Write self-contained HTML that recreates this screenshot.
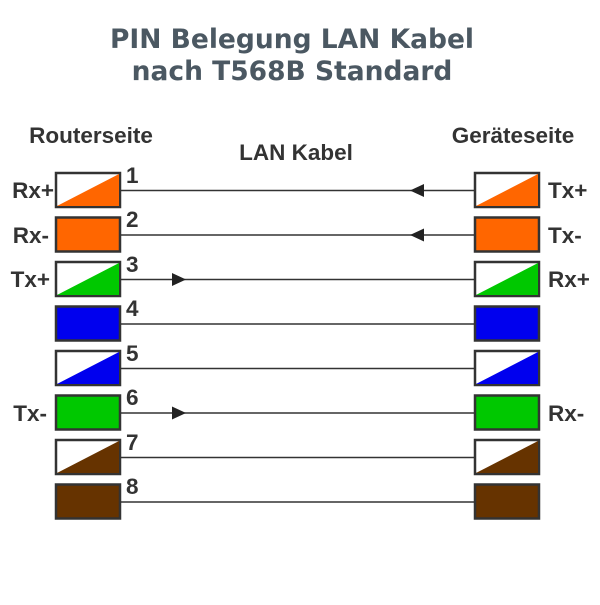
<!DOCTYPE html>
<html><head><meta charset="utf-8"><style>body{margin:0;background:#fff}</style></head><body>
<svg width="600" height="600" xmlns="http://www.w3.org/2000/svg" font-family="Liberation Sans, sans-serif" font-weight="bold">
<text x="292" y="48" text-anchor="middle" font-family="DejaVu Sans, sans-serif" font-size="26.5" fill="#4b5862">PIN Belegung LAN Kabel</text>
<text x="292" y="80" text-anchor="middle" font-family="DejaVu Sans, sans-serif" font-size="26.5" fill="#4b5862">nach T568B Standard</text>
<text x="91" y="143" text-anchor="middle" font-size="22.5" fill="#333">Routerseite</text>
<text x="513" y="143" text-anchor="middle" font-size="22.5" fill="#333">Geräteseite</text>
<text x="296" y="160" text-anchor="middle" font-size="22.5" fill="#333">LAN Kabel</text>
<g stroke="#333" stroke-width="1.5">
<line x1="120" y1="190.5" x2="475" y2="190.5"/>
<line x1="120" y1="235" x2="475" y2="235"/>
<line x1="120" y1="279.5" x2="475" y2="279.5"/>
<line x1="120" y1="324" x2="475" y2="324"/>
<line x1="120" y1="368.5" x2="475" y2="368.5"/>
<line x1="120" y1="413" x2="475" y2="413"/>
<line x1="120" y1="457.5" x2="475" y2="457.5"/>
<line x1="120" y1="502" x2="475" y2="502"/>
</g>
<g fill="#222">
<polygon points="410,190.5 424,184 424,197"/>
<polygon points="410,235 424,228.5 424,241.5"/>
<polygon points="186,279.5 172,273 172,286"/>
<polygon points="186,413 172,406.5 172,419.5"/>
</g>
<g stroke="#333" stroke-width="2.5">
<rect x="56" y="173" width="64" height="34" fill="#fff"/><polygon points="57,206 119,174 119,206" fill="#ff6600" stroke="none"/>
<rect x="56" y="217.5" width="64" height="34" fill="#ff6600"/>
<rect x="56" y="262" width="64" height="34" fill="#fff"/><polygon points="57,295 119,263 119,295" fill="#00c800" stroke="none"/>
<rect x="56" y="306.5" width="64" height="34" fill="#0000ee"/>
<rect x="56" y="351" width="64" height="34" fill="#fff"/><polygon points="57,384 119,352 119,384" fill="#0000ee" stroke="none"/>
<rect x="56" y="395.5" width="64" height="34" fill="#00c800"/>
<rect x="56" y="440" width="64" height="34" fill="#fff"/><polygon points="57,473 119,441 119,473" fill="#663300" stroke="none"/>
<rect x="56" y="484.5" width="64" height="34" fill="#663300"/>
<rect x="475" y="173" width="64" height="34" fill="#fff"/><polygon points="476,206 538,174 538,206" fill="#ff6600" stroke="none"/>
<rect x="475" y="217.5" width="64" height="34" fill="#ff6600"/>
<rect x="475" y="262" width="64" height="34" fill="#fff"/><polygon points="476,295 538,263 538,295" fill="#00c800" stroke="none"/>
<rect x="475" y="306.5" width="64" height="34" fill="#0000ee"/>
<rect x="475" y="351" width="64" height="34" fill="#fff"/><polygon points="476,384 538,352 538,384" fill="#0000ee" stroke="none"/>
<rect x="475" y="395.5" width="64" height="34" fill="#00c800"/>
<rect x="475" y="440" width="64" height="34" fill="#fff"/><polygon points="476,473 538,441 538,473" fill="#663300" stroke="none"/>
<rect x="475" y="484.5" width="64" height="34" fill="#663300"/>
</g>
<g font-size="22.5" fill="#333">
<text x="126" y="183">1</text><text x="126" y="227">2</text><text x="126" y="272">3</text><text x="126" y="316">4</text>
<text x="126" y="361">5</text><text x="126" y="405">6</text><text x="126" y="450">7</text><text x="126" y="494">8</text>
<text x="54" y="198" text-anchor="end">Rx+</text>
<text x="49" y="243" text-anchor="end">Rx-</text>
<text x="50" y="287" text-anchor="end">Tx+</text>
<text x="47" y="421" text-anchor="end">Tx-</text>
<text x="548" y="198">Tx+</text>
<text x="548" y="243">Tx-</text>
<text x="548" y="287">Rx+</text>
<text x="548" y="421">Rx-</text>
</g>
</svg>
</body></html>
